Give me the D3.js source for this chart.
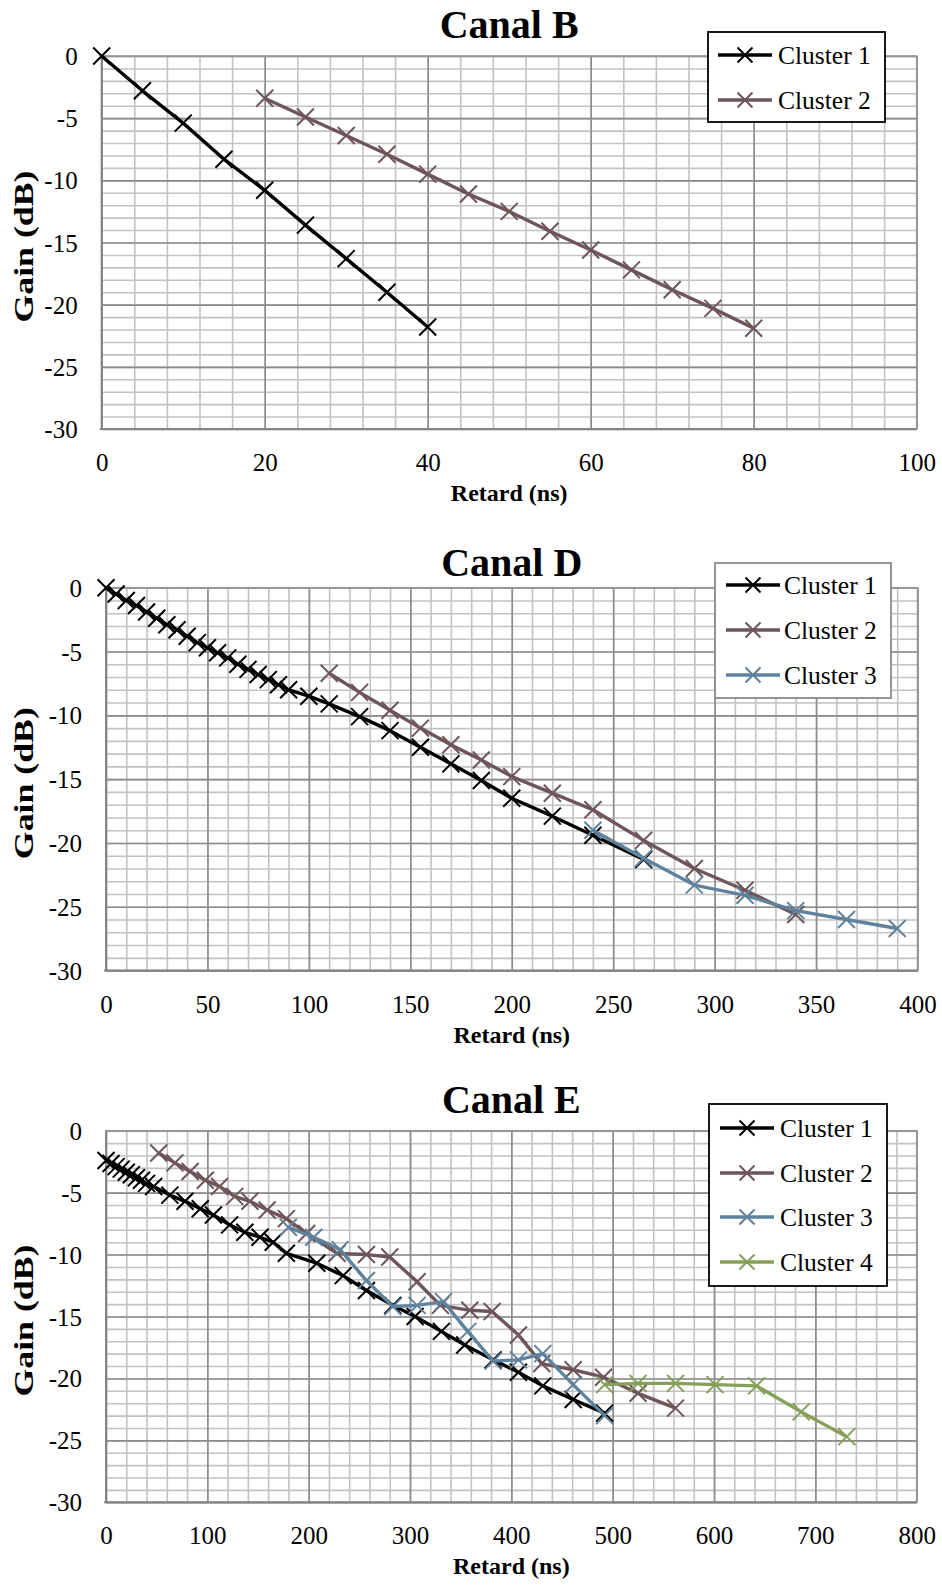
<!DOCTYPE html>
<html><head><meta charset="utf-8">
<script src="https://cdn.jsdelivr.net/npm/d3@7"></script>
<style>
body{margin:0;background:#fff}
svg{display:block}
svg text{font-family:"Liberation Serif","Times New Roman",serif !important;fill:#000}
</style>
</head><body>
<script>
// ---------- data ----------
const yTickValues = [0, -5, -10, -15, -20, -25, -30];
const xTicksB = [0, 20, 40, 60, 80, 100];
const xTicksD = [0, 50, 100, 150, 200, 250, 300, 350, 400];
const xTicksE = [0, 100, 200, 300, 400, 500, 600, 700, 800];
const clusterNames = ["Cluster 1", "Cluster 2", "Cluster 3", "Cluster 4"];
const clusterColors = ["#000000", "#6e555a", "#5f839c", "#84a05a"];
const titles = ["Canal B", "Canal D", "Canal E"];
const xLabel = "Retard (ns)";
const yLabel = "Gain (dB)";

// Canal B
const b1x = [0, 5, 10, 15, 20, 25, 30, 35, 40];
const b1y = [0, -2.8, -5.4, -8.3, -10.8, -13.6, -16.3, -19.0, -21.8];
const b2x = [20, 25, 30, 35, 40, 45, 50, 55, 60, 65, 70, 75, 80];
const b2y = [-3.4, -4.9, -6.4, -7.9, -9.5, -11.1, -12.5, -14.1, -15.6, -17.2, -18.8, -20.3, -21.9];

// Canal D
const d1x = [0, 5, 10, 15, 20, 25, 30, 35, 40, 45, 50, 55, 60, 65, 70, 75, 80, 85, 90, 100, 110, 125, 140, 155, 170, 185, 200, 220, 240, 265];
const d1y = [0, -0.5, -1.0, -1.4, -1.9, -2.4, -2.9, -3.3, -3.8, -4.3, -4.7, -5.1, -5.5, -6.0, -6.4, -6.8, -7.2, -7.6, -8.0, -8.5, -9.1, -10.1, -11.2, -12.5, -13.8, -15.1, -16.5, -17.9, -19.4, -21.3];
const d2x = [110, 125, 140, 155, 170, 185, 200, 220, 240, 265, 290, 315, 340];
const d2y = [-6.7, -8.2, -9.6, -11.0, -12.3, -13.5, -14.8, -16.1, -17.4, -19.8, -22.0, -23.7, -25.6];
const d3x = [240, 265, 290, 315, 340, 365, 390];
const d3y = [-19.0, -21.2, -23.3, -24.1, -25.3, -26.0, -26.7];

// Canal E
const e1x = [0, 5, 10, 15, 20, 25, 30, 35, 40, 47, 63, 78, 93, 106, 122, 137, 152, 165, 178, 208, 234, 257, 283, 305, 331, 354, 382, 407, 431, 461, 492];
const e1y = [-2.4, -2.65, -2.9, -3.1, -3.35, -3.55, -3.8, -4.0, -4.25, -4.5, -5.2, -5.7, -6.3, -6.8, -7.6, -8.2, -8.6, -9.0, -9.9, -10.7, -11.7, -12.9, -14.1, -15.0, -16.2, -17.3, -18.5, -19.5, -20.6, -21.7, -22.8];
const e2x = [52, 68, 83, 98, 112, 127, 142, 159, 178, 198, 228, 257, 280, 307, 330, 359, 381, 407, 430, 461, 491, 525, 562];
const e2y = [-1.8, -2.6, -3.3, -4.0, -4.5, -5.3, -5.7, -6.4, -7.1, -8.3, -9.9, -10.0, -10.2, -12.2, -14.1, -14.5, -14.6, -16.5, -18.8, -19.3, -19.9, -21.2, -22.4];
const e3x = [180, 205, 231, 257, 283, 307, 333, 357, 382, 407, 431, 461, 492];
const e3y = [-7.8, -8.6, -9.6, -12.1, -14.2, -14.1, -13.8, -16.2, -18.6, -18.5, -18.0, -20.5, -23.0];
const e4x = [492, 525, 562, 601, 642, 686, 731];
const e4y = [-20.5, -20.4, -20.4, -20.5, -20.6, -22.7, -24.7];

// ---------- layout ----------
const W = 942, H = 1586;
const FONT = '"Liberation Serif","Times New Roman",serif';
const svg = d3.select("body").append("svg").attr("width", W).attr("height", H);

const charts = [
  { title: titles[0], xTicks: xTicksB, minorX: 4, box: [101.7, 56, 916.7, 429],
    series: [[b1x, b1y], [b2x, b2y]], titleY: 38, legend: { x0: 708, y0: 32, x1: 885, y1: 122, rowY: [55, 100], lx: 718, tx: 778, border: "#000" } },
  { title: titles[1], xTicks: xTicksD, minorX: 10, box: [106, 587.7, 917.5, 970.6],
    series: [[d1x, d1y], [d2x, d2y], [d3x, d3y]], titleY: 576, legend: { x0: 715, y0: 563, x1: 891, y1: 698, rowY: [585, 630, 675], lx: 726, tx: 784, border: "#8a8a8a" } },
  { title: titles[2], xTicks: xTicksE, minorX: 20, box: [106, 1130.7, 916.7, 1502.3],
    series: [[e1x, e1y], [e2x, e2y], [e3x, e3y], [e4x, e4y]], titleY: 1113, legend: { x0: 709, y0: 1104, x1: 887, y1: 1286, rowY: [1128, 1173, 1217, 1262], lx: 720, tx: 780, border: "#000" } }
];

const markerPath = s => `M${-s},${-s}L${s},${s}M${-s},${s}L${s},${-s}`;

charts.forEach(c => {
  const [L, T, R, B] = c.box;
  const xMax = c.xTicks[c.xTicks.length - 1];
  const x = d3.scaleLinear().domain([0, xMax]).range([L, R]);
  const y = d3.scaleLinear().domain([-30, 0]).range([B, T]);
  const g = svg.append("g");

  // minor grid
  const minorXs = d3.range(0, xMax + 0.001, c.minorX);
  const minorYs = d3.range(-30, 0.001, 1);
  g.append("g").attr("transform", `translate(0,${B})`)
    .call(d3.axisBottom(x).tickValues(minorXs).tickSize(-(B - T)).tickFormat(""))
    .call(a => a.select(".domain").remove())
    .call(a => a.selectAll("line").attr("stroke", "#c2c2c2").attr("stroke-width", 1.6));
  g.append("g").attr("transform", `translate(${L},0)`)
    .call(d3.axisLeft(y).tickValues(minorYs).tickSize(-(R - L)).tickFormat(""))
    .call(a => a.select(".domain").remove())
    .call(a => a.selectAll("line").attr("stroke", "#c2c2c2").attr("stroke-width", 1.6));
  // major grid
  g.append("g").attr("transform", `translate(0,${B})`)
    .call(d3.axisBottom(x).tickValues(c.xTicks).tickSize(-(B - T)).tickFormat(""))
    .call(a => a.select(".domain").remove())
    .call(a => a.selectAll("line").attr("stroke", "#8c8c8c").attr("stroke-width", 1.6));
  g.append("g").attr("transform", `translate(${L},0)`)
    .call(d3.axisLeft(y).tickValues(yTickValues).tickSize(-(R - L)).tickFormat(""))
    .call(a => a.select(".domain").remove())
    .call(a => a.selectAll("line").attr("stroke", "#8c8c8c").attr("stroke-width", 1.6));
  // frame
  g.append("rect").attr("x", L).attr("y", T).attr("width", R - L).attr("height", B - T)
    .attr("fill", "none").attr("stroke", "#9a9a9a").attr("stroke-width", 1.6);
  g.append("line").attr("x1", L).attr("x2", L).attr("y1", T).attr("y2", B).attr("stroke", "#858585").attr("stroke-width", 2);
  g.append("line").attr("x1", L - 2).attr("x2", R).attr("y1", B).attr("y2", B).attr("stroke", "#858585").attr("stroke-width", 2);

  // tick labels
  g.append("g").attr("transform", `translate(0,${B})`)
    .call(d3.axisBottom(x).tickValues(c.xTicks).tickSize(0).tickPadding(0).tickFormat(d => String(d)))
    .call(a => a.select(".domain").remove())
    .attr("font-family", FONT).attr("font-size", 25)
    .call(a => a.selectAll("text").attr("y", 42).attr("dy", 0)
      .style("font-family", FONT).style("font-size", "25px").attr("fill", "#000"));
  g.append("g").attr("transform", `translate(${L - 24},0)`)
    .call(d3.axisLeft(y).tickValues(yTickValues).tickSize(0).tickPadding(0).tickFormat(d => String(d)))
    .call(a => a.select(".domain").remove())
    .attr("font-family", FONT).attr("font-size", 25)
    .call(a => a.selectAll("text").attr("x", 0).attr("dy", "0.34em")
      .style("font-family", FONT).style("font-size", "25px").attr("fill", "#000"));

  // titles
  svg.append("text").attr("x", (L + R) / 2).attr("y", c.titleY).attr("text-anchor", "middle")
    .style("font-family", FONT).style("font-size", "40px").style("font-weight", "bold").text(c.title);
  svg.append("text").attr("x", (L + R) / 2).attr("y", B + 72).attr("text-anchor", "middle")
    .style("font-family", FONT).style("font-size", "24px").style("font-weight", "bold").text(xLabel);
  svg.append("text").attr("transform", `translate(33,${(T + B) / 2 + 4}) rotate(-90)`).attr("text-anchor", "middle")
    .attr("textLength", 152).attr("lengthAdjust", "spacingAndGlyphs")
    .style("font-family", FONT).style("font-size", "28px").style("font-weight", "bold").text(yLabel);

  // series
  const line = d3.line().x(d => x(d[0])).y(d => y(d[1]));
  c.series.forEach((s, i) => {
    const pts = s[0].map((v, k) => [v, s[1][k]]);
    const sg = svg.append("g");
    sg.append("path").attr("d", line(pts)).attr("fill", "none")
      .attr("stroke", clusterColors[i]).attr("stroke-width", 3.4).attr("stroke-linejoin", "round");
    sg.selectAll("path.m").data(pts).join("path").attr("class", "m")
      .attr("transform", d => `translate(${x(d[0])},${y(d[1])})`)
      .attr("d", markerPath(8.5)).attr("fill", "none")
      .attr("stroke", clusterColors[i]).attr("stroke-width", 2);
  });

  // legend
  const lg = c.legend;
  svg.append("rect").attr("x", lg.x0).attr("y", lg.y0).attr("width", lg.x1 - lg.x0).attr("height", lg.y1 - lg.y0)
    .attr("fill", "#fff").attr("stroke", lg.border).attr("stroke-width", 1.8);
  c.series.forEach((s, i) => {
    const yy = lg.rowY[i];
    svg.append("line").attr("x1", lg.lx).attr("x2", lg.lx + 54).attr("y1", yy).attr("y2", yy)
      .attr("stroke", clusterColors[i]).attr("stroke-width", 3.6);
    svg.append("path").attr("transform", `translate(${lg.lx + 27},${yy})`).attr("d", markerPath(7.5))
      .attr("fill", "none").attr("stroke", clusterColors[i]).attr("stroke-width", 2);
    svg.append("text").attr("x", lg.tx).attr("y", yy).attr("dy", "0.34em")
      .style("font-family", FONT).style("font-size", "25.5px")
      .text(clusterNames[i]);
  });
});
</script>
</body></html>
